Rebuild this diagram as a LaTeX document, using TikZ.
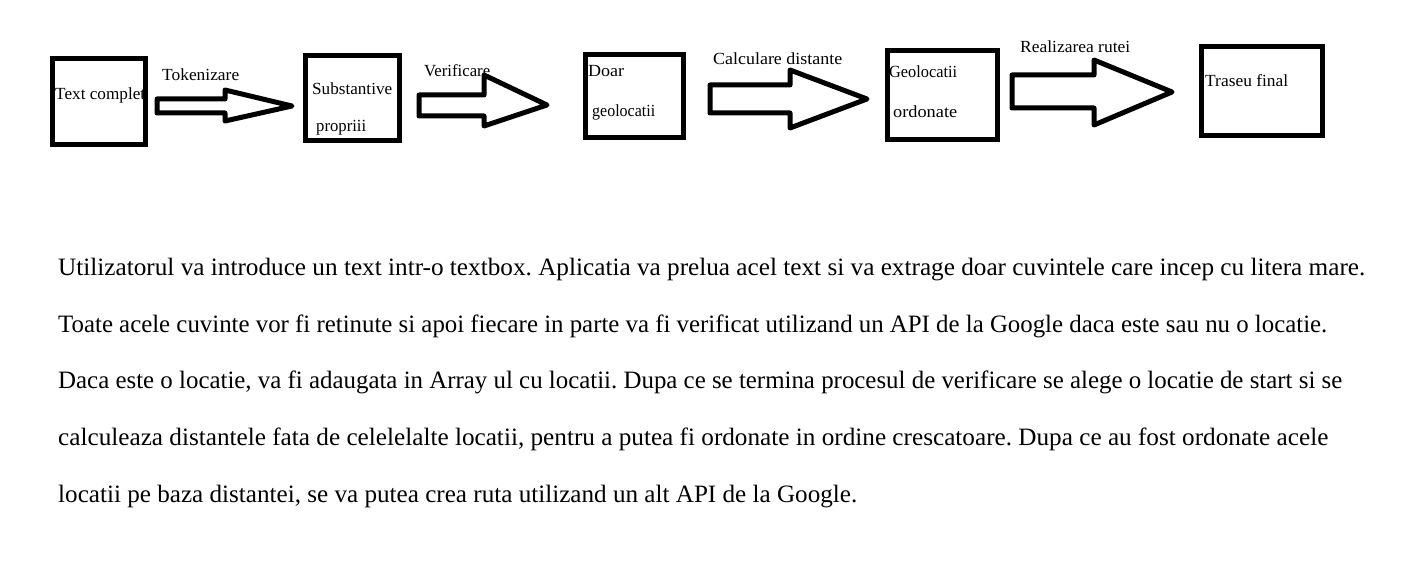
\documentclass[tikz,border=0pt]{standalone}
\usepackage{fontspec}
\setmainfont{Liberation Serif}
\usepackage{graphicx}
\frenchspacing
\newlength\fitlen
\newcommand\fitw[2]{\setbox0=\hbox{#2}\fitlen=\wd0\relax\pgfmathsetmacro\fitfac{#1/\fitlen}\scalebox{\fitfac}[1]{\box0}}
\tikzset{
  blk/.style={draw=black,line width=5pt,line join=miter,inner sep=0pt,outer sep=0pt,anchor=north west},
  barrow/.style={draw=black,line width=5pt,line join=round,fill=white},
  lbl/.style={anchor=base west,inner sep=0pt,font=\fontsize{17}{20}\selectfont},
  para/.style={anchor=base west,inner sep=0pt,font=\fontsize{25}{28}\selectfont}
}
\begin{document}
\begin{tikzpicture}[x=1pt,y=-1pt]
\useasboundingbox[fill=white] (0,0) rectangle (1411,572);
% boxes
\node[blk,minimum width=93pt,minimum height=86pt] (b1) at (52.5,58.5) {};
\node[blk,minimum width=94pt,minimum height=85pt] (b2) at (305.5,55.5) {};
\node[blk,minimum width=98pt,minimum height=83pt] (b3) at (585.5,54.5) {};
\node[blk,minimum width=110pt,minimum height=89pt] (b4) at (887.5,50.5) {};
\node[blk,minimum width=121pt,minimum height=89pt] (b5) at (1201.5,46.5) {};
% box texts
\node[lbl] (t1) at (55,100) {\fitw{90}{Text complet}};
\node[lbl] (t2a) at (312,95) {\fitw{80}{Substantive}};
\node[lbl] (t2b) at (316,132) {\fitw{50}{propriii}};
\node[lbl] (t3a) at (588,77) {\fitw{36}{Doar}};
\node[lbl] (t3b) at (592,117) {\fitw{63}{geolocatii}};
\node[lbl] (t4a) at (889,78) {\fitw{68}{Geolocatii}};
\node[lbl] (t4b) at (893,118) {\fitw{64}{ordonate}};
\node[lbl] (t5) at (1205,87) {\fitw{83}{Traseu final}};
% block arrows
\draw[barrow] (157,99) -- (225,99) -- (225,90) -- (292,106) -- (225,121) -- (225,113) -- (157,113) -- cycle;
\draw[barrow] (419,95) -- (484,95) -- (484,75) -- (547,105) -- (484,126) -- (484,116) -- (419,116) -- cycle;
\draw[barrow] (710,85) -- (790,85) -- (790,70) -- (867,99) -- (790,128) -- (790,113) -- (710,113) -- cycle;
\draw[barrow] (1012,75) -- (1094,75) -- (1094,60) -- (1172,92) -- (1094,125) -- (1094,108) -- (1012,108) -- cycle;
% arrow labels
\node[lbl] (l1) at (162,81) {\fitw{77}{Tokenizare}};
\node[lbl] (l2) at (424,77) {\fitw{66}{Verificare}};
\node[lbl] (l3) at (713,65) {\fitw{129}{Calculare distante}};
\node[lbl] (l4) at (1020,53) {\fitw{110}{Realizarea rutei}};
% paragraph
\node[para] (p1) at (58,275) {\fitw{1307}{Utilizatorul va introduce un text intr-o textbox. Aplicatia va prelua acel text si va extrage doar cuvintele care incep cu litera mare.}};
\node[para] (p2) at (58,332) {\fitw{1269}{Toate acele cuvinte vor fi retinute si apoi fiecare in parte va fi verificat utilizand un API de la Google daca este sau nu o locatie.}};
\node[para] (p3) at (58,388) {\fitw{1284}{Daca este o locatie, va fi adaugata in Array ul cu locatii. Dupa ce se termina procesul de verificare se alege o locatie de start si se}};
\node[para] (p4) at (58,445) {\fitw{1270}{calculeaza distantele fata de celelelalte locatii, pentru a putea fi ordonate in ordine crescatoare. Dupa ce au fost ordonate acele}};
\node[para] (p5) at (58,502) {\fitw{799}{locatii pe baza distantei, se va putea crea ruta utilizand un alt API de la Google.}};
\end{tikzpicture}
\end{document}
